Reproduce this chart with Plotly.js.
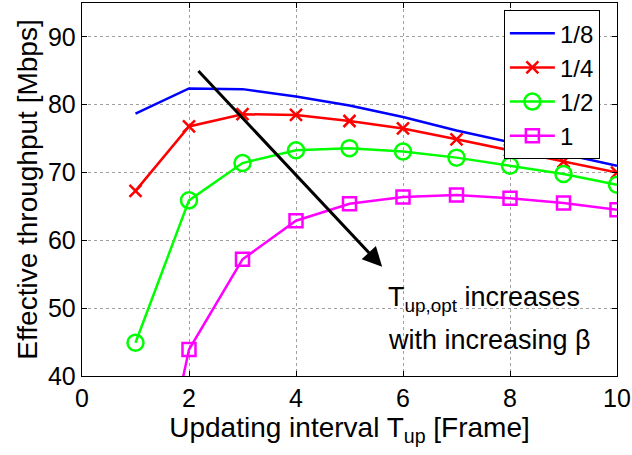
<!DOCTYPE html>
<html>
<head>
<meta charset="utf-8">
<script src="https://cdn.plot.ly/plotly-3.0.1.min.js"></script>
<style>html,body{margin:0;padding:0;background:#fff;}#chart{width:632px;height:455px;}</style>
</head>
<body>
<div id="chart"></div>
<script>
// Data
var updatingInterval = [1, 2, 3, 4, 5, 6, 7, 8, 9, 10];
var beta_1_8 = [78.7, 82.4, 82.3, 81.2, 79.9, 78.2, 76.2, 74.5, 72.7, 71.0];
var beta_1_4 = [67.3, 76.8, 78.6, 78.5, 77.6, 76.5, 74.9, 73.3, 71.6, 70.0];
var beta_1_2 = [44.9, 65.9, 71.4, 73.3, 73.6, 73.1, 72.2, 71.0, 69.8, 68.2];
var beta_1   = [7.0, 43.9, 57.2, 62.9, 65.4, 66.4, 66.7, 66.2, 65.5, 64.5];
var seriesNames = ["1/8", "1/4", "1/2", "1"];
var xTicks = [0, 2, 4, 6, 8, 10];
var yTicks = [40, 50, 60, 70, 80, 90];

var font = "Liberation Sans, Arial, Helvetica, sans-serif";

var traces = [
  {x: updatingInterval, y: beta_1_8, name: seriesNames[0], mode: "lines",
   line: {color: "#0000ff", width: 2.5}},
  {x: updatingInterval, y: beta_1_4, name: seriesNames[1], mode: "lines+markers",
   line: {color: "#ff0000", width: 2.5},
   marker: {symbol: "x-thin-open", size: 12, color: "#ff0000", line: {color: "#ff0000", width: 2.5}}},
  {x: updatingInterval, y: beta_1_2, name: seriesNames[2], mode: "lines+markers",
   line: {color: "#00ff00", width: 2.5},
   marker: {symbol: "circle-open", size: 16, color: "#00ff00", line: {color: "#00ff00", width: 2.5}}},
  {x: updatingInterval, y: beta_1, name: seriesNames[3], mode: "lines+markers",
   line: {color: "#ff00ff", width: 2.5},
   marker: {symbol: "square-open", size: 13, color: "#ff00ff", line: {color: "#ff00ff", width: 2.5}}}
];

var axisCommon = {
  showline: true, linecolor: "#000", linewidth: 1.3, mirror: "ticks",
  ticks: "inside", ticklen: 5, tickcolor: "#000", tickwidth: 1,
  showgrid: true, gridcolor: "#a0a0a0", griddash: "dot", gridwidth: 1,
  zeroline: false, tickfont: {family: font, size: 25, color: "#000"}
};

var layout = {
  width: 632, height: 455,
  margin: {l: 82, r: 15, t: 3, b: 79},
  paper_bgcolor: "#fff", plot_bgcolor: "#fff",
  font: {family: font, size: 25, color: "#000"},
  showlegend: true,
  legend: {x: 0.968, y: 0.981, xanchor: "right", yanchor: "top",
           bgcolor: "#fff", bordercolor: "#000", borderwidth: 1, itemwidth: 45,
           font: {family: font, size: 24, color: "#000"}, tracegroupgap: 0},
  xaxis: Object.assign({}, axisCommon, {
    range: [0, 10], tickvals: xTicks, ticktext: xTicks.map(String),
    title: {text: "Updating interval T<sub>up</sub> [Frame]", font: {family: font, size: 28}, standoff: 0}
  }),
  yaxis: Object.assign({}, axisCommon, {
    range: [40, 95], tickvals: yTicks, ticktext: yTicks.map(String),
    title: {text: "Effective throughput [Mbps]", font: {family: font, size: 28}, standoff: 2}
  }),
  annotations: [
    {x: 5.61, y: 56.1, ax: 2.15, ay: 85.2, xref: "x", yref: "y", axref: "x", ayref: "y",
     showarrow: true, arrowhead: 2, arrowsize: 1.3, arrowwidth: 3, arrowcolor: "#000", text: ""},
    {x: 5.69, y: 51.4, xref: "x", yref: "y", xanchor: "left", yanchor: "middle", showarrow: false,
     text: "T<sub>up,opt</sub> increases", font: {family: font, size: 27, color: "#000"}},
    {x: 5.69, y: 45.3, xref: "x", yref: "y", xanchor: "left", yanchor: "middle", showarrow: false,
     text: "with increasing β", font: {family: font, size: 27, color: "#000"}}
  ]
};

Plotly.newPlot("chart", traces, layout, {displayModeBar: false, staticPlot: true});
</script>
</body>
</html>
